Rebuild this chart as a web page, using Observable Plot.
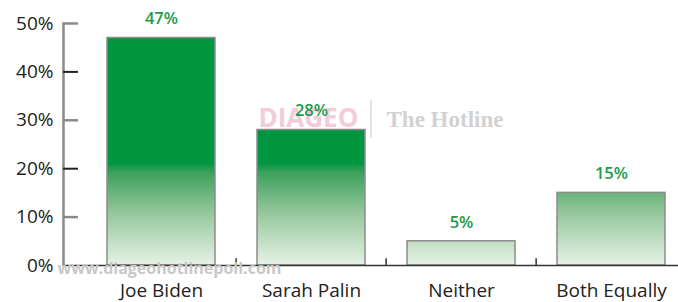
<!DOCTYPE html>
<html>
<head>
<meta charset="utf-8">
<script src="https://cdn.jsdelivr.net/npm/d3@7"></script>
<script src="https://cdn.jsdelivr.net/npm/@observablehq/plot@0.6"></script>
<style>
  html, body { margin: 0; padding: 0; background: #fff; }
  #chart { position: relative; width: 678px; height: 302px; }
</style>
</head>
<body>
<div id="chart"></div>
<script>
const categories = ["Joe Biden", "Sarah Palin", "Neither", "Both Equally"];
const values = [47, 28, 5, 15];
const yTicks = [0, 10, 20, 30, 40, 50];
const grayTicks = [10, 30, 50];
const blackTicks = [20, 40];

const data = categories.map((c, i) => ({category: c, value: values[i]}));

const W = 678, H = 302, ML = 63, MR = 0;
const xRange = [84, 687];
const step = (xRange[1] - xRange[0]) / categories.length;
const tickLen = 15;
const font = "'Open Sans', 'DejaVu Sans', sans-serif";

const chart = Plot.plot({
  width: W,
  height: H,
  marginLeft: ML,
  marginRight: MR,
  marginTop: 23,
  marginBottom: 37,
  style: {fontFamily: font, background: "#fff", overflow: "visible"},
  x: {domain: categories, range: xRange, paddingInner: 0.283, paddingOuter: 0.1415, label: null},
  y: {domain: [0, 50], label: null, axis: null},
  marks: [
    // watermark
    Plot.text(["DIAGEO"], {frameAnchor: "top-left", dx: 195, dy: 95, textAnchor: "start", lineAnchor: "middle",
      fill: "#f4cbd8", fontSize: 26, fontWeight: "bold", fontFamily: font, text: d => d}),
    Plot.text(["The Hotline"], {frameAnchor: "top-left", dx: 323, dy: 96, textAnchor: "start", lineAnchor: "middle",
      fill: "#d2d2d2", fontSize: 23, fontWeight: "bold", fontFamily: "'Liberation Serif', 'DejaVu Serif', serif", text: d => d}),
    Plot.barY(data, {x: "category", y: "value", fill: "url(#barGrad)", stroke: "#8c8c8c", strokeWidth: 1.5}),
    Plot.ruleY([0], {stroke: "#333", strokeWidth: 1.5}),
    Plot.ruleX(categories.slice(1), {x: d => d, y1: 0, y2: 1.4, dx: -step / 2, stroke: "#333", strokeWidth: 1.5}),
    Plot.frame({anchor: "left", stroke: "#8a8a8a", strokeWidth: 2.5}),
    Plot.ruleY(grayTicks, {y: d => d, insetRight: W - ML - MR - tickLen, stroke: "#8a8a8a", strokeWidth: 2.5}),
    Plot.ruleY(blackTicks, {y: d => d, insetRight: W - ML - MR - tickLen, stroke: "#222", strokeWidth: 2}),
    Plot.text(yTicks, {y: d => d, frameAnchor: "left", dx: -10, textAnchor: "end", text: d => d + "%",
      fontSize: 19, fill: "#222"}),
    Plot.axisX({tickSize: 0, tickPadding: 18, fontSize: 19, fill: "#222"}),
    Plot.text(data, {x: "category", y: "value", text: d => d.value + "%", dy: -19,
      fill: "#1d9a4c", fontSize: 16.5, fontWeight: 600}),
    Plot.text(["www.diageohotlinepoll.com"], {frameAnchor: "bottom-left", dx: -6, dy: 3, textAnchor: "start", lineAnchor: "middle",
      fill: "#c8c8c8", fontSize: 16, fontWeight: "bold", fontFamily: font, text: d => d})
  ]
});

const ys = chart.scale("y");
const svg = d3.select(chart);

// gradient tied to the y scale (absolute, like the reference)
const defs = svg.insert("defs", ":first-child");
const grad = defs.append("linearGradient").attr("id", "barGrad")
  .attr("gradientUnits", "userSpaceOnUse")
  .attr("x1", 0).attr("x2", 0)
  .attr("y1", ys.apply(21)).attr("y2", ys.apply(0));
[[0, "#009640"], [0.08, "#3a9f5a"], [0.45, "#8fc396"], [1, "#e6f2e6"]].forEach(([o, c]) => {
  grad.append("stop").attr("offset", o).attr("stop-color", c);
});

// divider line of the watermark
svg.insert("line", "defs + *")
  .attr("x1", 371).attr("x2", 371).attr("y1", 100).attr("y2", 138)
  .attr("stroke", "#d8d8d8").attr("stroke-width", 1.5);

document.getElementById("chart").appendChild(chart);
</script>
</body>
</html>
